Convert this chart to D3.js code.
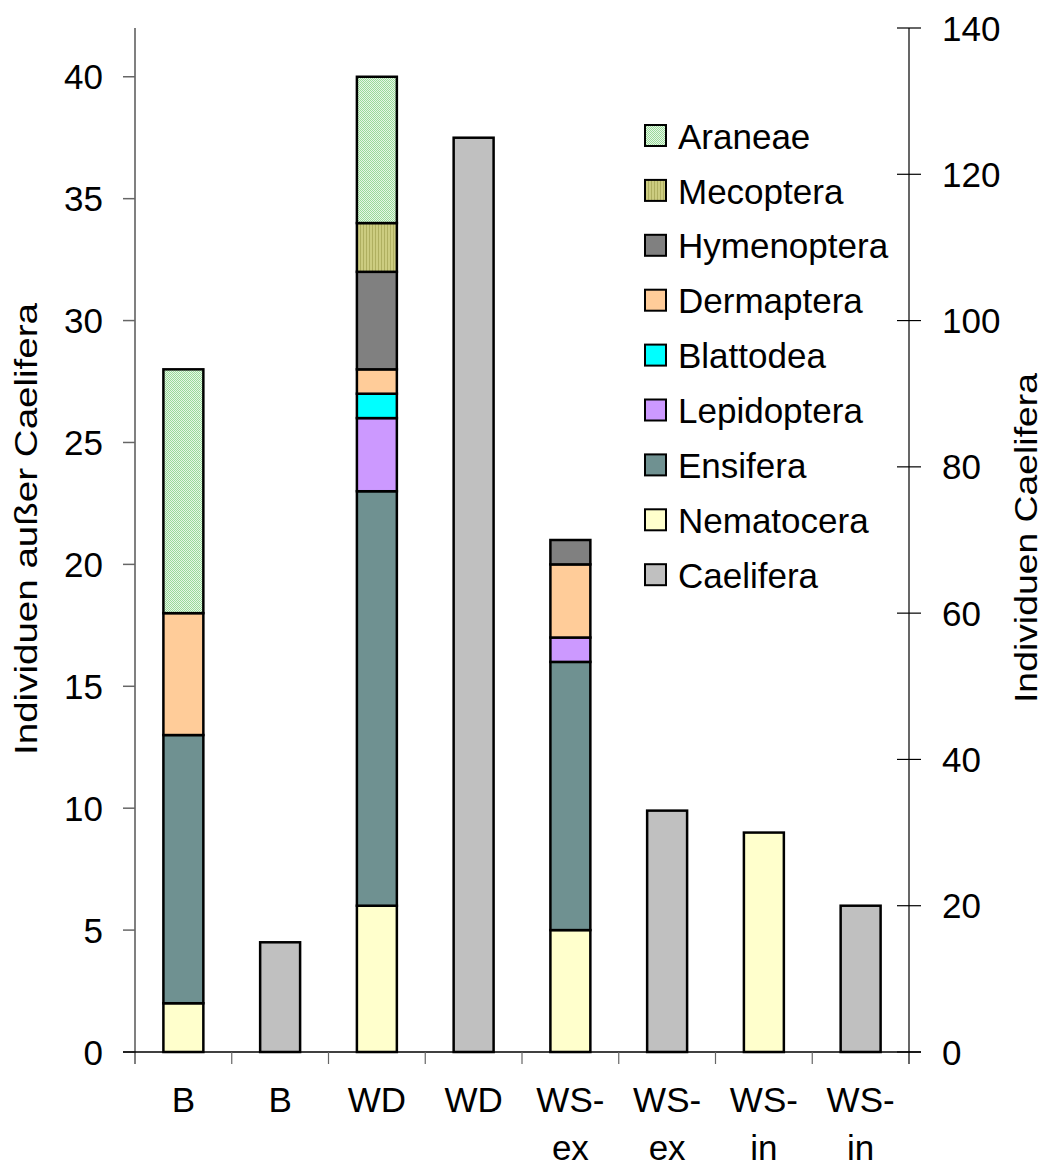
<!DOCTYPE html>
<html><head><meta charset="utf-8">
<script src="https://cdn.jsdelivr.net/npm/d3@7"></script>
<style>body{margin:0;background:#fff}svg{display:block}text{font-family:"Liberation Sans",Arial,sans-serif;fill:#000}</style>
</head><body><svg id="c" width="1053" height="1169"></svg>
<script>
const categories = ["B","B","WD","WD","WS-ex","WS-ex","WS-in","WS-in"];
const stackOrder = ["Nematocera","Ensifera","Lepidoptera","Blattodea","Dermaptera","Hymenoptera","Mecoptera","Araneae"];
const nematocera  = [2,0,6,0,5,0,9,0];
const ensifera    = [11,0,17,0,11,0,0,0];
const lepidoptera = [0,0,3,0,1,0,0,0];
const blattodea   = [0,0,1,0,0,0,0,0];
const dermaptera  = [5,0,1,0,3,0,0,0];
const hymenoptera = [0,0,4,0,1,0,0,0];
const mecoptera   = [0,0,2,0,0,0,0,0];
const araneae     = [10,0,6,0,0,0,0,0];
const caelifera   = [0,15,0,125,0,33,0,20];
const leftTicks = [0,5,10,15,20,25,30,35,40];
const rightTicks = [0,20,40,60,80,100,120,140];
const legendOrder = ["Araneae","Mecoptera","Hymenoptera","Dermaptera","Blattodea","Lepidoptera","Ensifera","Nematocera","Caelifera"];

const seriesVals = {Nematocera:nematocera,Ensifera:ensifera,Lepidoptera:lepidoptera,Blattodea:blattodea,Dermaptera:dermaptera,Hymenoptera:hymenoptera,Mecoptera:mecoptera,Araneae:araneae};
const fills = {Araneae:"url(#patA)",Mecoptera:"url(#patM)",Hymenoptera:"#808080",Dermaptera:"#ffcc99",Blattodea:"#00ffff",Lepidoptera:"#cc99ff",Ensifera:"#6f9191",Nematocera:"#ffffcc",Caelifera:"#c0c0c0"};

const svg = d3.select("#c");
const defs = svg.append("defs");
const pA = defs.append("pattern").attr("id","patA").attr("width",2).attr("height",2).attr("patternUnits","userSpaceOnUse");
pA.append("rect").attr("width",2).attr("height",2).attr("fill","#e6f7e6");
pA.append("rect").attr("width",1).attr("height",1).attr("fill","#99d999");
pA.append("rect").attr("x",1).attr("y",1).attr("width",1).attr("height",1).attr("fill","#99d999");
const pM = defs.append("pattern").attr("id","patM").attr("width",3).attr("height",3).attr("patternUnits","userSpaceOnUse");
pM.append("rect").attr("width",3).attr("height",3).attr("fill","#cccc80");
pM.append("rect").attr("width",1).attr("height",3).attr("fill","#afaf60");

const x0 = 135, x1 = 909, yb = 1052, yt = 28;
const x = d3.scaleBand().domain(d3.range(categories.length)).range([x0,x1]).paddingInner(0.587).paddingOuter(0.2935);
const yL = d3.scaleLinear().domain([0,42]).range([yb,yt]);
const yR = d3.scaleLinear().domain([0,140]).range([yb,yt]);

const table = d3.range(categories.length).map(i => {const o={i}; stackOrder.forEach(k=>o[k]=seriesVals[k][i]); return o;});
const stacked = d3.stack().keys(stackOrder)(table);

const bars = svg.append("g");
stacked.forEach(s => {
  bars.selectAll(null).data(s.filter(d=>d[1]-d[0]>0)).enter().append("rect")
    .attr("x", d=>x(d.data.i)).attr("width", x.bandwidth())
    .attr("y", d=>yL(d[1])).attr("height", d=>yL(d[0])-yL(d[1]))
    .attr("fill", fills[s.key]).attr("stroke","#000").attr("stroke-width",2.5);
});
bars.selectAll(null).data(caelifera.map((v,i)=>({v,i})).filter(d=>d.v>0)).enter().append("rect")
  .attr("x", d=>x(d.i)).attr("width", x.bandwidth())
  .attr("y", d=>yR(d.v)).attr("height", d=>yR(0)-yR(d.v))
  .attr("fill", fills.Caelifera).attr("stroke","#000").attr("stroke-width",2.5);

// left axis
const gl = svg.append("g").attr("transform",`translate(${x0},0)`);
gl.append("line").attr("y1",yt).attr("y2",1064).attr("stroke","#808080").attr("stroke-width",2);
gl.selectAll(null).data(leftTicks).enter().append("line").attr("x1",-12).attr("x2",0)
  .attr("y1",d=>yL(d)).attr("y2",d=>yL(d)).attr("stroke","#666").attr("stroke-width",1.5);
gl.selectAll(null).data(leftTicks).enter().append("text").attr("x",-32).attr("y",d=>yL(d))
  .attr("dy","0.36em").attr("text-anchor","end").attr("font-size",35).text(d=>d);

// right axis
const gr = svg.append("g").attr("transform",`translate(${x1},0)`);
gr.append("line").attr("y1",yt).attr("y2",1064).attr("stroke","#000").attr("stroke-width",1.2);
gr.selectAll(null).data(rightTicks).enter().append("line").attr("x1",-12).attr("x2",12)
  .attr("y1",d=>yR(d)).attr("y2",d=>yR(d)).attr("stroke","#000").attr("stroke-width",1.2);
gr.selectAll(null).data(rightTicks).enter().append("text").attr("x",33).attr("y",d=>yR(d))
  .attr("dy","0.36em").attr("text-anchor","start").attr("font-size",35).text(d=>d);

// baseline and category ticks
svg.append("line").attr("x1",123).attr("x2",921).attr("y1",yb).attr("y2",yb).attr("stroke","#000").attr("stroke-width",1.5);
const bounds = d3.range(1,categories.length).map(i => x0 + i*(x1-x0)/categories.length);
svg.selectAll(null).data(bounds).enter().append("line").attr("x1",d=>d).attr("x2",d=>d)
  .attr("y1",yb).attr("y2",1064).attr("stroke","#666").attr("stroke-width",1.2);

// category labels
const gc = svg.append("g");
categories.forEach((c,i) => {
  const cx = x(i) + x.bandwidth()/2;
  const parts = c.includes("-") ? [c.split("-")[0]+"-", c.split("-")[1]] : [c];
  parts.forEach((p,j) => gc.append("text").attr("x",cx).attr("y",1112 + j*48).attr("text-anchor","middle").attr("font-size",35).text(p));
});

// axis titles
svg.append("text").attr("transform","translate(37,529) rotate(-90)").attr("text-anchor","middle").attr("font-size",32)
  .attr("textLength",452).attr("lengthAdjust","spacingAndGlyphs").text("Individuen außer Caelifera");
svg.append("text").attr("transform","translate(1037,538) rotate(-90)").attr("text-anchor","middle").attr("font-size",32)
  .attr("textLength",330).attr("lengthAdjust","spacingAndGlyphs").text("Individuen Caelifera");

// legend
const lg = svg.append("g");
legendOrder.forEach((k,i) => {
  const cy = 136 + i*54.9;
  lg.append("rect").attr("x",645).attr("y",cy-11).attr("width",21).attr("height",21)
    .attr("fill",fills[k]).attr("stroke","#000").attr("stroke-width",2);
  lg.append("text").attr("x",678).attr("y",cy).attr("dy","0.36em").attr("font-size",35).text(k);
});
</script></body></html>
